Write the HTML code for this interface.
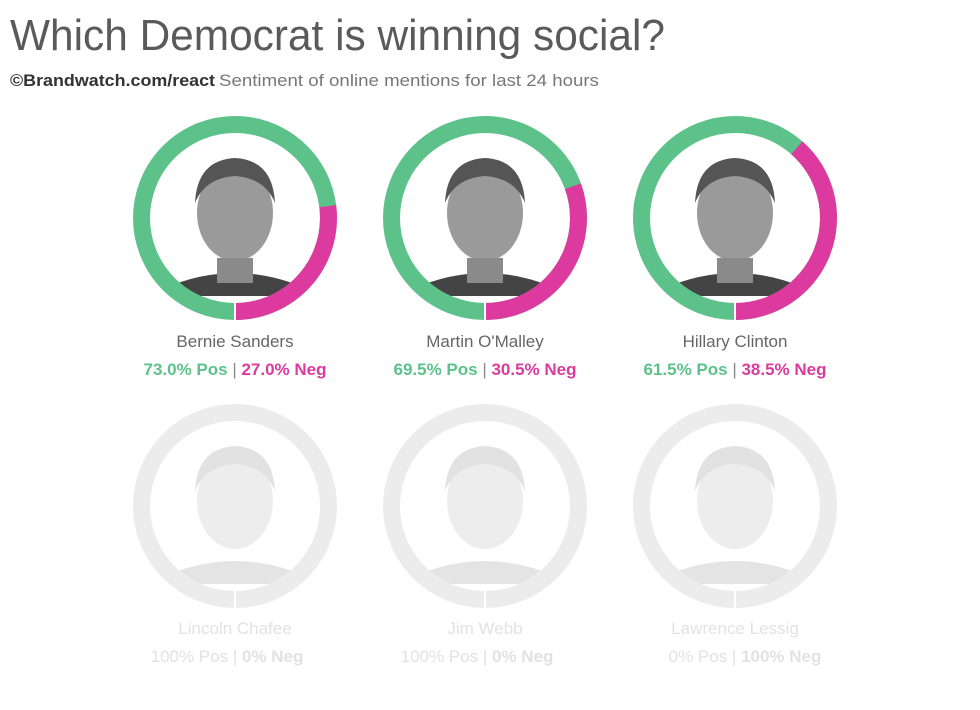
<!DOCTYPE html>
<html><head><meta charset="utf-8"><style>
body{margin:0;background:#fff;}
svg{display:block;font-family:"Liberation Sans",sans-serif;}
</style></head><body>
<svg width="980" height="710" viewBox="0 0 980 710">
<text x="10" y="50" font-size="44" fill="#5a5a5a" textLength="655" lengthAdjust="spacingAndGlyphs">Which Democrat is winning social?</text>
<text x="10" y="86" font-size="17" fill="#333" font-weight="bold" textLength="205" lengthAdjust="spacingAndGlyphs">©Brandwatch.com/react</text>
<text x="219" y="86" font-size="17" fill="#777" textLength="380" lengthAdjust="spacingAndGlyphs">Sentiment of online mentions for last 24 hours</text>
<defs>
<g id="face">
<path d="M-70,70 Q0,40 70,70 L50,78 L-50,78Z" fill="#444"/>
<ellipse cx="0" cy="-5" rx="38" ry="48" fill="#9a9a9a"/>
<path d="M-40,-15 Q-38,-58 0,-60 Q38,-58 40,-15 Q30,-40 0,-42 Q-30,-40 -40,-15Z" fill="#555"/>
<rect x="-18" y="40" width="36" height="25" fill="#8a8a8a"/>
</g>
<g id="faceL">
<path d="M-70,70 Q0,40 70,70 L50,78 L-50,78Z" fill="#e4e4e4"/>
<ellipse cx="0" cy="-5" rx="38" ry="48" fill="#ededed"/>
<path d="M-40,-15 Q-38,-58 0,-60 Q38,-58 40,-15 Q30,-40 0,-42 Q-30,-40 -40,-15Z" fill="#e2e2e2"/>
</g>
</defs>
<g transform="translate(235,218)">
<use href="#face"/>
<circle r="93.5" fill="none" stroke="#5cc28a" stroke-width="17"/>
<circle r="93.5" fill="none" stroke="#dc3a9f" stroke-width="17" pathLength="100" stroke-dasharray="27 73" stroke-dashoffset="-23" transform="rotate(-90)"/>
<line x1="0" y1="84" x2="0" y2="103" stroke="#fff" stroke-width="2"/>
</g>
<g transform="translate(485,218)">
<use href="#face"/>
<circle r="93.5" fill="none" stroke="#5cc28a" stroke-width="17"/>
<circle r="93.5" fill="none" stroke="#dc3a9f" stroke-width="17" pathLength="100" stroke-dasharray="30.5 69.5" stroke-dashoffset="-19.5" transform="rotate(-90)"/>
<line x1="0" y1="84" x2="0" y2="103" stroke="#fff" stroke-width="2"/>
</g>
<g transform="translate(735,218)">
<use href="#face"/>
<circle r="93.5" fill="none" stroke="#5cc28a" stroke-width="17"/>
<circle r="93.5" fill="none" stroke="#dc3a9f" stroke-width="17" pathLength="100" stroke-dasharray="38.5 61.5" stroke-dashoffset="-11.5" transform="rotate(-90)"/>
<line x1="0" y1="84" x2="0" y2="103" stroke="#fff" stroke-width="2"/>
</g>
<g font-size="17" text-anchor="middle">
<text x="235" y="347" fill="#666">Bernie Sanders</text>
<text x="485" y="347" fill="#666">Martin O'Malley</text>
<text x="735" y="347" fill="#666">Hillary Clinton</text>
<g font-weight="bold">
<text x="235" y="375"><tspan fill="#5cc28a">73.0% Pos</tspan><tspan fill="#888" font-weight="normal">  |  </tspan><tspan fill="#dc3a9f">27.0% Neg</tspan></text>
<text x="485" y="375"><tspan fill="#5cc28a">69.5% Pos</tspan><tspan fill="#888" font-weight="normal">  |  </tspan><tspan fill="#dc3a9f">30.5% Neg</tspan></text>
<text x="735" y="375"><tspan fill="#5cc28a">61.5% Pos</tspan><tspan fill="#888" font-weight="normal">  |  </tspan><tspan fill="#dc3a9f">38.5% Neg</tspan></text>
</g>
</g>
<g transform="translate(235,506)"><use href="#faceL"/><circle r="93.5" fill="none" stroke="#ececec" stroke-width="17"/><line x1="0" y1="84" x2="0" y2="103" stroke="#fff" stroke-width="2"/></g>
<g transform="translate(485,506)"><use href="#faceL"/><circle r="93.5" fill="none" stroke="#ececec" stroke-width="17"/><line x1="0" y1="84" x2="0" y2="103" stroke="#fff" stroke-width="2"/></g>
<g transform="translate(735,506)"><use href="#faceL"/><circle r="93.5" fill="none" stroke="#ececec" stroke-width="17"/><line x1="0" y1="84" x2="0" y2="103" stroke="#fff" stroke-width="2"/></g>
<g font-size="17" text-anchor="middle" fill="#e2e2e2">
<text x="235" y="634">Lincoln Chafee</text>
<text x="485" y="634">Jim Webb</text>
<text x="735" y="634">Lawrence Lessig</text>
<text x="227" y="662">100% Pos  |  <tspan font-weight="bold">0% Neg</tspan></text>
<text x="477" y="662">100% Pos  |  <tspan font-weight="bold">0% Neg</tspan></text>
<text x="745" y="662">0% Pos  |  <tspan font-weight="bold">100% Neg</tspan></text>
</g>
</svg>
</body></html>
